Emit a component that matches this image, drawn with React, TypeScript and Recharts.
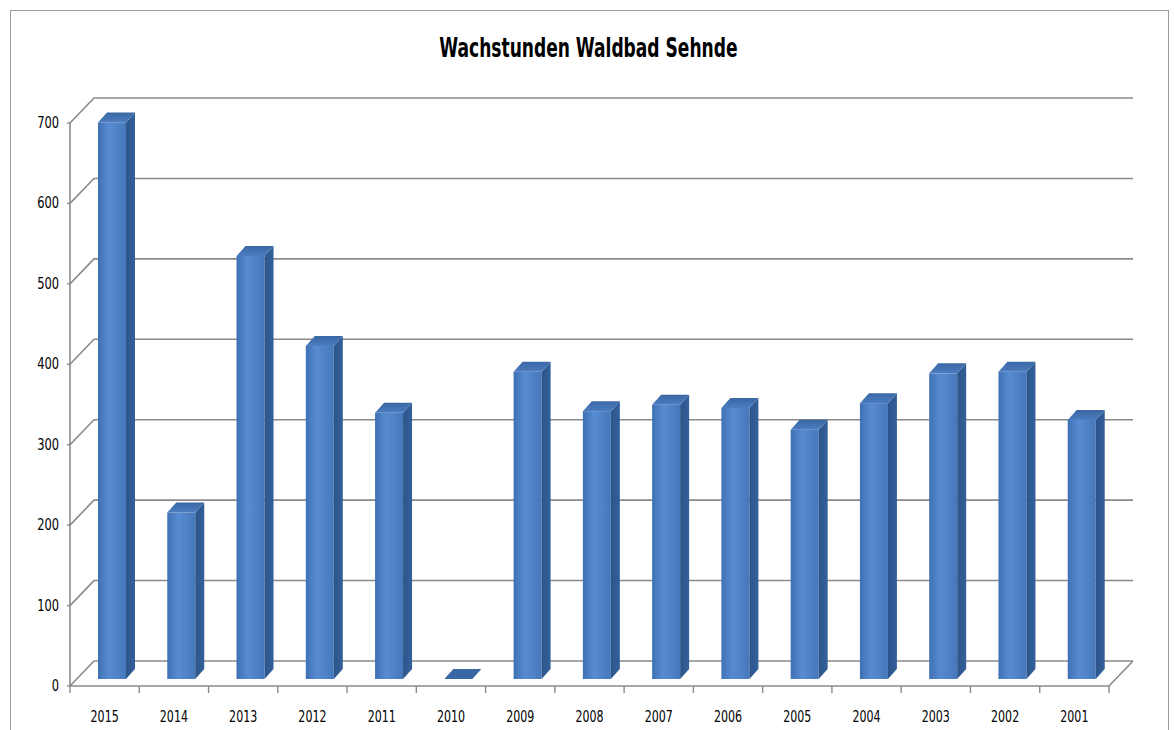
import React from 'react';
import { BarChart, Bar, XAxis, YAxis, CartesianGrid } from 'recharts';

const years = ['2015', '2014', '2013', '2012', '2011', '2010', '2009', '2008', '2007', '2006', '2005', '2004', '2003', '2002', '2001'];
const hours = [692, 207, 526, 414, 331, 0, 382, 333, 341, 337, 310, 343, 380, 382, 322];
const yTicks = [0, 100, 200, 300, 400, 500, 600, 700];

const data = years.map((y, i) => ({ year: y, hours: hours[i] }));

const FONT = "'Liberation Sans Narrow', 'DejaVu Sans Condensed', 'Arial Narrow', sans-serif";
const GRID = '#8a8a8a';
const DX = 24; // depth offset of back wall
const DY = 25;
const PLOT_LEFT = 70;
const PLOT_RIGHT = 1109;
const BAND = (PLOT_RIGHT - PLOT_LEFT) / years.length;

const GridLine = (props: any) => {
  const { x1, x2, y1, index } = props;
  const isFloor = Math.abs(y1 - 686) < 2;
  return (
    <g key={`g-${index}`}>
      <polyline
        points={`${x1},${y1} ${x1 + DX},${y1 - DY} ${x2 + DX},${y1 - DY}`}
        fill="none"
        stroke={GRID}
        strokeWidth={1.6}
      />
      {isFloor && (
        <line x1={x2} y1={y1} x2={x2 + DX} y2={y1 - DY} stroke={GRID} strokeWidth={1.6} />
      )}
    </g>
  );
};

const Bar3D = (props: any) => {
  const { x, y, width, height } = props;
  const d = 9;
  const dd = 10;
  const fx = x + 7;
  const by = y + height - 7;
  const ty = y - 7;
  const w = width;
  const top = `${fx},${ty} ${fx + d},${ty - dd} ${fx + w + d},${ty - dd} ${fx + w},${ty}`;
  if (height <= 0.5) {
    return <polygon points={top} fill="#3a66a3" />;
  }
  return (
    <g>
      <rect x={fx} y={ty} width={w} height={by - ty} fill="url(#frontGrad)" />
      <polygon
        points={`${fx + w},${by} ${fx + w + d},${by - dd} ${fx + w + d},${ty - dd} ${fx + w},${ty}`}
        fill="url(#sideGrad)"
      />
      <polygon points={top} fill="url(#topGrad)" />
    </g>
  );
};

const XTick = (props: any) => {
  const { x, payload, index } = props;
  const left = x - BAND / 2;
  return (
    <g>
      <line x1={left} y1={686} x2={left} y2={693} stroke={GRID} strokeWidth={1.4} />
      {index === years.length - 1 && (
        <line x1={left + BAND} y1={686} x2={left + BAND} y2={693} stroke={GRID} strokeWidth={1.4} />
      )}
      <text
        transform={`translate(${x},722) scale(0.82,1)`}
        x={0}
        y={0}
        textAnchor="middle"
        fontFamily={FONT}
        fontSize={15}
        fill="#000"
      >
        {payload.value}
      </text>
    </g>
  );
};

const YTick = (props: any) => {
  const { y, payload } = props;
  return (
    <g>
      <line x1={PLOT_LEFT - 3} y1={y} x2={PLOT_LEFT} y2={y} stroke={GRID} strokeWidth={1.4} />
      <text
        transform={`translate(59,${y + 5}) scale(0.85,1)`}
        x={0}
        y={0}
        textAnchor="end"
        fontFamily={FONT}
        fontSize={15}
        fill="#000"
      >
        {payload.value}
      </text>
    </g>
  );
};

export default function App() {
  return (
    <div style={{ position: 'absolute', left: 0, top: 0, width: 1175, height: 730, overflow: 'hidden', background: '#fff' }}>
      <div
        style={{
          position: 'absolute',
          left: 10,
          top: 10,
          width: 1157,
          height: 760,
          border: '1px solid #9a9a9a',
        }}
      />
      <div
        style={{
          position: 'absolute',
          left: 0,
          top: 30,
          width: 1175,
          textAlign: 'center',
          fontFamily: FONT,
          fontWeight: 'bold',
          fontSize: 26,
          color: '#000',
          lineHeight: '36px',
          transform: 'scaleX(0.73)',
          transformOrigin: '591px 0',
        }}
      >
        Wachstunden Waldbad Sehnde
      </div>
      <div style={{ position: 'absolute', left: 0, top: 0 }}>
        <BarChart
          width={1175}
          height={730}
          data={data}
          margin={{ top: 123, right: 1175 - PLOT_RIGHT, bottom: 0, left: 0 }}
          barCategoryGap={0}
        >
          <defs>
            <linearGradient id="frontGrad" x1="0" y1="0" x2="1" y2="0">
              <stop offset="0%" stopColor="#3f70b3" />
              <stop offset="40%" stopColor="#578cd2" />
              <stop offset="100%" stopColor="#4677bb" />
            </linearGradient>
            <linearGradient id="sideGrad" x1="0" y1="0" x2="1" y2="0">
              <stop offset="0%" stopColor="#2c558a" />
              <stop offset="100%" stopColor="#34609a" />
            </linearGradient>
            <linearGradient id="topGrad" x1="0" y1="1" x2="0" y2="0">
              <stop offset="0%" stopColor="#4c7dc0" />
              <stop offset="100%" stopColor="#3a66a3" />
            </linearGradient>
          </defs>
          <CartesianGrid vertical={false} horizontal={GridLine} />
          <XAxis
            dataKey="year"
            height={44}
            interval={0}
            axisLine={{ stroke: GRID, strokeWidth: 1.6 }}
            tickLine={false}
            tick={XTick}
          />
          <YAxis
            width={PLOT_LEFT}
            domain={[0, 700]}
            ticks={yTicks}
            interval={0}
            axisLine={{ stroke: GRID, strokeWidth: 1.6 }}
            tickLine={false}
            tick={YTick}
          />
          <Bar dataKey="hours" barSize={28} shape={Bar3D} isAnimationActive={false} />
        </BarChart>
      </div>
    </div>
  );
}
